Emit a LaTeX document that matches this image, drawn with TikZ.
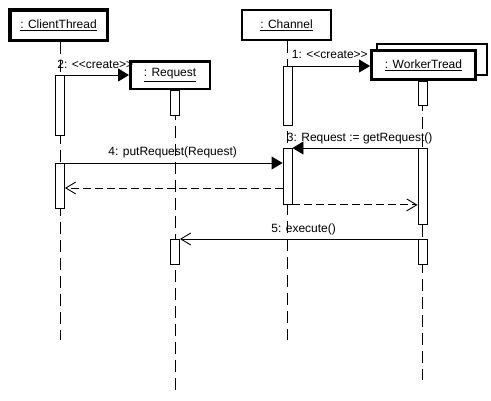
\documentclass[tikz,border=0pt]{standalone}
\usepackage{fontspec}
\setmainfont{Liberation Sans}[Ligatures=TeXOff]
\usetikzlibrary{positioning,arrows.meta}

\begin{document}
\begin{tikzpicture}[x=1pt,y=-1pt,on grid,font=\fontsize{12}{14}\selectfont,
  obj/.style={draw,fill=white,inner sep=0pt},
  bar/.style={draw,fill=white,line width=0.9pt,minimum width=9pt,minimum height=#1,inner sep=0pt,anchor=north},
  life/.style={line width=0.9pt,dash pattern=on 12pt off 6pt},
  call/.style={line width=0.9pt,-{Triangle[length=11pt,width=13pt]}},
  ret/.style={line width=0.9pt,dash pattern=on 8pt off 4pt,-{Straight Barb[length=10pt,width=12pt]}},
  msg/.style={line width=0.9pt,-{Straight Barb[length=10pt,width=12pt]}},
  lbl/.style={inner sep=0pt,anchor=base west}]
  \useasboundingbox (0,0) rectangle (491,400);

  \node[obj,line width=3.5pt,minimum width=97.5pt,minimum height=30.5pt] (ct) at (58.5,25) {\underline{: ClientThread}};
  \node[obj,line width=2pt,minimum width=89pt,minimum height=30pt] (ch) [right=228pt of ct] {\underline{: Channel}};
  \node[obj,line width=2.5pt,minimum width=79.5pt,minimum height=27.5pt] (rq) [below right=50pt and 111.5pt of ct] {\underline{: Request}};
  \node[obj,line width=2pt,minimum width=110pt,minimum height=31pt] (wtb) [below right=34.5pt and 145.5pt of ch] {};
  \node[obj,line width=3pt,minimum width=104pt,minimum height=29pt] (wt) [below left=5.5pt and 8.5pt of wtb] {\underline{: WorkerTread}};

  \coordinate (ctend) at (60,340);
  \coordinate (rqend) at (175,390);
  \coordinate (chend) at (287.5,340);
  \coordinate (wtend) at (422.5,380);
  \draw[life] (ct.south -| ctend) -- (ctend);
  \draw[life] (rq.south -| rqend) -- (rqend);
  \draw[life] (ch.south -| chend) -- (chend);
  \draw[life] (wt.south -| wtend) -- (wtend);

  \node[bar=60pt] (ct1) at (60,75) {};
  \node[bar=45pt] (ct2) at (60,163) {};
  \node[bar=25pt] (rq1) at (175,90) {};
  \node[bar=25pt] (rq2) at (175,239) {};
  \node[bar=59pt] (ch1) at (287.5,66) {};
  \node[bar=56pt] (ch2) at (287.5,148) {};
  \node[bar=24pt] (wt1) at (422.5,81) {};
  \node[bar=76pt] (wt2) at (422.5,148) {};
  \node[bar=25pt] (wt3) at (422.5,239) {};

  \draw[call] (ct1.north east) -- (rq.west |- ct1.north east) node[lbl,pos=0,xshift=-8pt,yshift=7pt] (l2) {2: <<create>>};
  \draw[call] (ch1.north east) -- (wt.west |- ch1.north east) node[lbl,pos=0,xshift=-1pt,yshift=8pt] (l1) {1: <<create>>};
  \draw[call] (ct2.north east) -- (ch2.west |- ct2.north east) node[lbl,pos=0,xshift=43pt,yshift=8pt] (l4) {4: putRequest(Request)};
  \draw[call] (wt2.north west) -- (ch2.north east) node[lbl,pos=1,xshift=-6pt,yshift=7pt] (l3) {3: Request := getRequest()};
  \coordinate (r4) at (0,188);
  \draw[ret] (ch2.west |- r4) -- (ct2.east |- r4);
  \draw[ret] (ch2.south east) -- (wt2.west |- ch2.south east);
  \draw[msg] (wt3.north west) -- (rq2.north east) node[lbl,pos=1,xshift=91pt,yshift=7pt] (l5) {5: execute()};
\end{tikzpicture}
\end{document}
